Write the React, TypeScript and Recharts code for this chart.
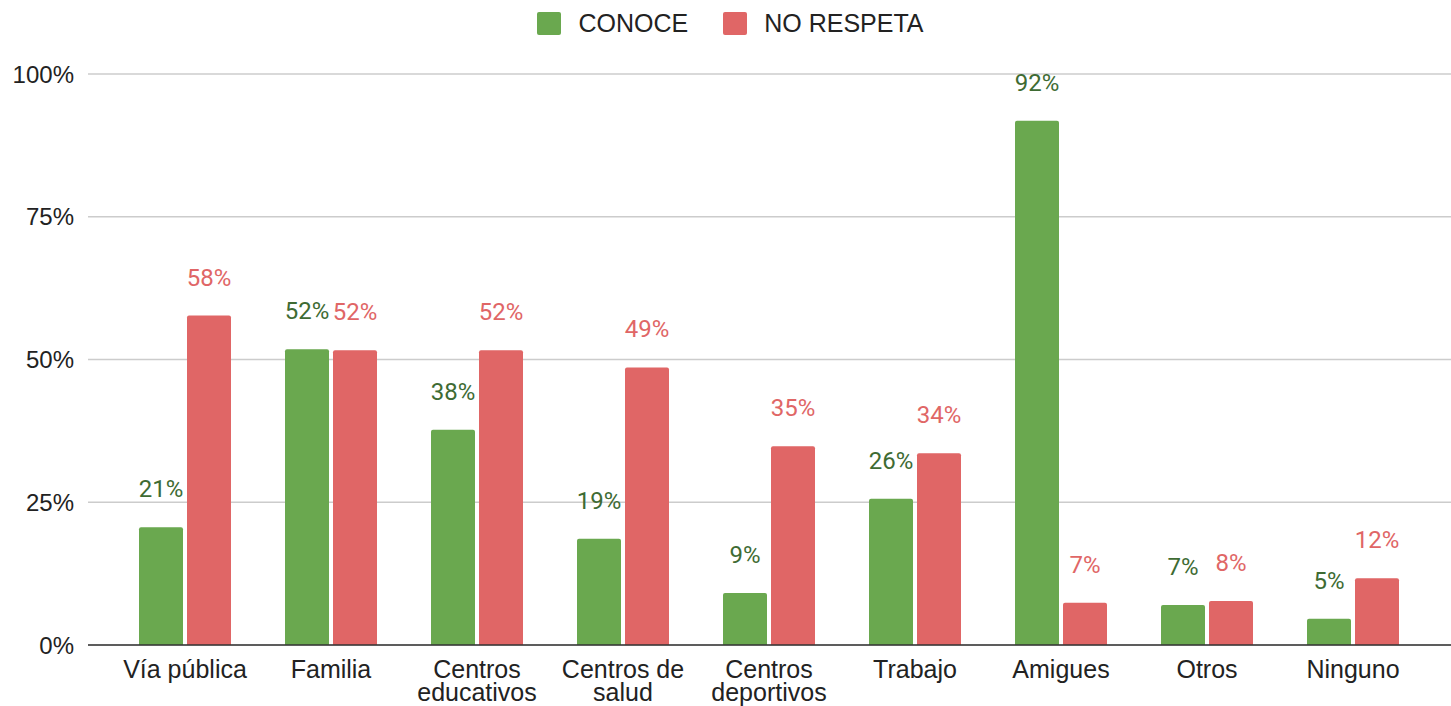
import React from "react";
import { BarChart, Bar, XAxis, YAxis, CartesianGrid, Legend, LabelList } from "recharts";

const categories = [
  "Vía pública",
  "Familia",
  "Centros educativos",
  "Centros de salud",
  "Centros deportivos",
  "Trabajo",
  "Amigues",
  "Otros",
  "Ninguno",
];
const conoce = [20.6, 51.8, 37.7, 18.6, 9.1, 25.6, 91.8, 7.0, 4.6];
const noRespeta = [57.7, 51.6, 51.6, 48.6, 34.8, 33.6, 7.4, 7.7, 11.7];
const yTicks = [0, 25, 50, 75, 100];

const GREEN = "#6aa84f";
const RED = "#e06666";
const GREEN_LABEL = "#3e6b33";
const AXIS_FONT = "'Liberation Sans', Arial, sans-serif";
const LABEL_FONT = "Roboto, 'Liberation Sans', Arial, sans-serif";

const data = categories.map((c, i) => ({ name: c, conoce: conoce[i], noRespeta: noRespeta[i] }));

function wrapWords(text: string, maxChars: number): string[] {
  const words = text.split(" ");
  const lines: string[] = [];
  let cur = "";
  for (const w of words) {
    const next = cur ? cur + " " + w : w;
    if (next.length > maxChars && cur) {
      lines.push(cur);
      cur = w;
    } else {
      cur = next;
    }
  }
  if (cur) lines.push(cur);
  return lines;
}

const XTick = (props: any) => {
  const { x, y, payload } = props;
  const lines = wrapWords(String(payload.value), 11);
  return (
    <text x={x} y={y} textAnchor="middle" fill="#222" fontSize={25} fontFamily={AXIS_FONT}>
      {lines.map((l, i) => (
        <tspan key={i} x={x} dy={i === 0 ? 25 : 23}>
          {l}
        </tspan>
      ))}
    </text>
  );
};

const LegendContent = () => (
  <div
    style={{
      display: "flex",
      justifyContent: "center",
      alignItems: "center",
      height: 46,
      paddingLeft: 10,
      fontFamily: AXIS_FONT,
      fontSize: 25,
      color: "#222",
    }}
  >
    {[
      { label: "CONOCE", color: GREEN },
      { label: "NO RESPETA", color: RED },
    ].map((it, i) => (
      <div key={i} style={{ display: "flex", alignItems: "center", marginLeft: i === 0 ? 0 : 35 }}>
        <div style={{ width: 24, height: 23, background: it.color, borderRadius: 2, marginRight: 17 }} />
        <span>{it.label}</span>
      </div>
    ))}
  </div>
);

export default function App() {
  return (
    <div style={{ position: "absolute", left: 0, top: 0, width: 1451, height: 706, background: "#fff" }}>
      <BarChart
        width={1451}
        height={706}
        data={data}
        margin={{ top: 28, right: 0, bottom: 0, left: 0 }}
        barSize={44}
        barGap={4}
      >
        <CartesianGrid vertical={false} stroke="#cccccc" strokeWidth={1.5} />
        <Legend
          verticalAlign="top"
          content={<LegendContent />}
          wrapperStyle={{ top: 0, left: 0, width: 1451, height: 46 }}
        />
        <XAxis
          dataKey="name"
          tick={<XTick />}
          tickLine={false}
          axisLine={{ stroke: "#333", strokeWidth: 1.5 }}
          height={61}
          interval={0}
          padding={{ left: 24, right: 25 }}
        />
        <YAxis
          domain={[0, 100]}
          ticks={yTicks}
          width={88}
          axisLine={false}
          tickLine={false}
          tickSize={0}
          tickMargin={14}
          tickFormatter={(v: number) => `${v}%`}
          tick={{ fill: "#222", fontSize: 24, fontFamily: AXIS_FONT }}
        />
        <Bar dataKey="conoce" name="CONOCE" fill={GREEN} radius={[2, 2, 0, 0]} isAnimationActive={false}>
          <LabelList
            dataKey="conoce"
            position="top"
            offset={30}
            formatter={(v: number) => `${Math.round(v)}%`}
            fill={GREEN_LABEL}
            fontSize={24}
            fontFamily={LABEL_FONT}
          />
        </Bar>
        <Bar dataKey="noRespeta" name="NO RESPETA" fill={RED} radius={[2, 2, 0, 0]} isAnimationActive={false}>
          <LabelList
            dataKey="noRespeta"
            position="top"
            offset={30}
            formatter={(v: number) => `${Math.round(v)}%`}
            fill={RED}
            fontSize={24}
            fontFamily={LABEL_FONT}
          />
        </Bar>
      </BarChart>
    </div>
  );
}
